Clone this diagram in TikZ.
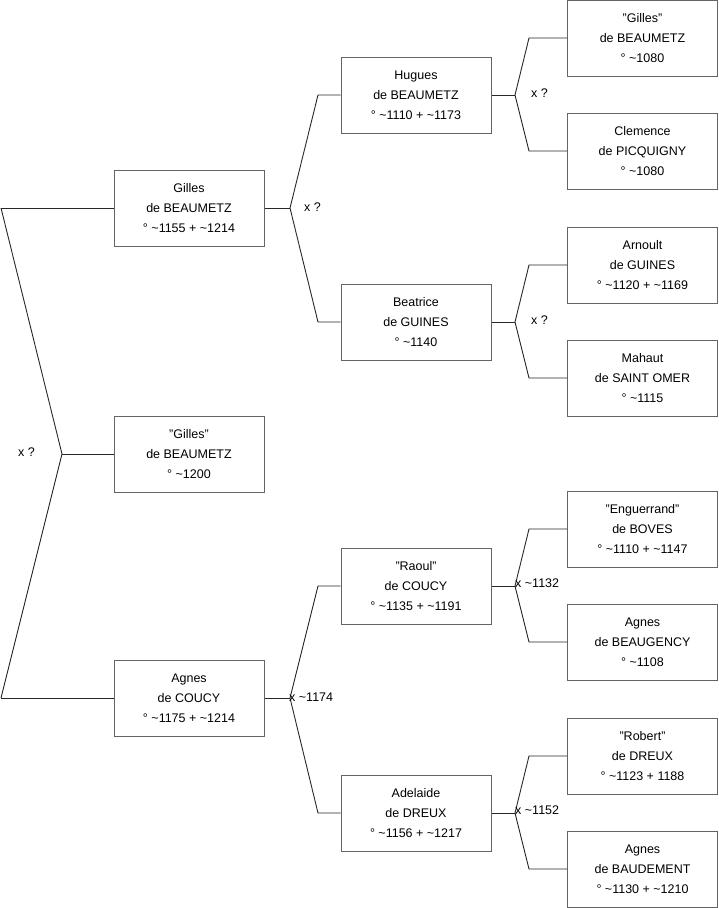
\documentclass[tikz,border=0pt]{standalone}
\usepackage{fontspec}
\setmainfont{Liberation Sans}
\definecolor{boxc}{RGB}{100,100,100}
\definecolor{linec}{RGB}{40,40,40}
\begin{document}
\begin{tikzpicture}[x=1pt,y=-1pt,
  person/.style={draw=boxc,line width=1pt,minimum width=150pt,minimum height=76pt,inner sep=0pt,
    align=center,font=\fontsize{12.5}{20}\selectfont},
  conn/.style={draw=linec,line width=0.9pt},
  lbl/.style={font=\fontsize{12.5}{15}\selectfont,inner sep=0pt}]
\useasboundingbox (0,0) rectangle (719,908);
\newcommand{\tl}{\textasciitilde}
% column 1
\node[person] (g1) at (189,208) {Gilles\\de BEAUMETZ\\° \tl1155 + \tl1214};
\node[person] (g2) at (189,454) {"Gilles"\\de BEAUMETZ\\° \tl1200};
\node[person] (a1) at (189,698) {Agnes\\de COUCY\\° \tl1175 + \tl1214};
% column 2
\node[person] (h) at (416,95) {Hugues\\de BEAUMETZ\\° \tl1110 + \tl1173};
\node[person] (b) at (416,322) {Beatrice\\de GUINES\\° \tl1140};
\node[person] (r) at (416,586) {"Raoul"\\de COUCY\\° \tl1135 + \tl1191};
\node[person] (ad) at (416,813) {Adelaide\\de DREUX\\° \tl1156 + \tl1217};
% column 3
\node[person] (c1) at (642.5,38) {"Gilles"\\de BEAUMETZ\\° \tl1080};
\node[person] (c2) at (642.5,151) {Clemence\\de PICQUIGNY\\° \tl1080};
\node[person] (c3) at (642.5,265) {Arnoult\\de GUINES\\° \tl1120 + \tl1169};
\node[person] (c4) at (642.5,378) {Mahaut\\de SAINT OMER\\° \tl1115};
\node[person] (c5) at (642.5,529) {"Enguerrand"\\de BOVES\\° \tl1110 + \tl1147};
\node[person] (c6) at (642.5,642) {Agnes\\de BEAUGENCY\\° \tl1108};
\node[person] (c7) at (642.5,756) {"Robert"\\de DREUX\\° \tl1123 + 1188};
\node[person] (c8) at (642.5,869) {Agnes\\de BAUDEMENT\\° \tl1130 + \tl1210};
% left fork
\coordinate (lt) at (1,208);
\coordinate (lb) at (1,698);
\coordinate (lm) at (62,454);
\draw[conn] (lt) -- (g1.west);
\draw[conn] (lb) -- (a1.west);
\draw[conn] (lt) -- (lm) -- (lb);
\draw[conn] (lm) -- (g2.west);
\node[lbl,anchor=west] (lx) at (18,452) {x ?};
% generic fork macro
\newcommand{\fork}[6]{% #1 parent, #2 fork x, #3 branch x, #4 upper, #5 lower, #6 name
  \coordinate (#6f) at (#2,0 |- #1.east);
  \path (#6f) ++(0,0) coordinate (#6f);
  \coordinate (#6u) at (#3,0 |- #4.west);
  \coordinate (#6d) at (#3,0 |- #5.west);
  \draw[conn] (#1.east) -- (#6f);
  \draw[conn] (#4.west) -- (#6u) -- (#6f) -- (#6d) -- (#5.west);
}
\fork{g1}{290}{318}{h}{b}{A}
\fork{a1}{290}{318}{r}{ad}{B}
\fork{h}{515}{529}{c1}{c2}{C}
\fork{b}{515}{529}{c3}{c4}{D}
\fork{r}{515}{529}{c5}{c6}{E}
\fork{ad}{515}{529}{c7}{c8}{F}
\node[lbl,anchor=west] (xA) at (304,207) {x ?};
\node[lbl,anchor=west] (xB) at (289,697) {x \tl1174};
\node[lbl,anchor=west] (xC) at (531,93) {x ?};
\node[lbl,anchor=west] (xD) at (531,320) {x ?};
\node[lbl,anchor=west] (xE) at (515,583) {x \tl1132};
\node[lbl,anchor=west] (xF) at (515,810) {x \tl1152};
\end{tikzpicture}
\end{document}
